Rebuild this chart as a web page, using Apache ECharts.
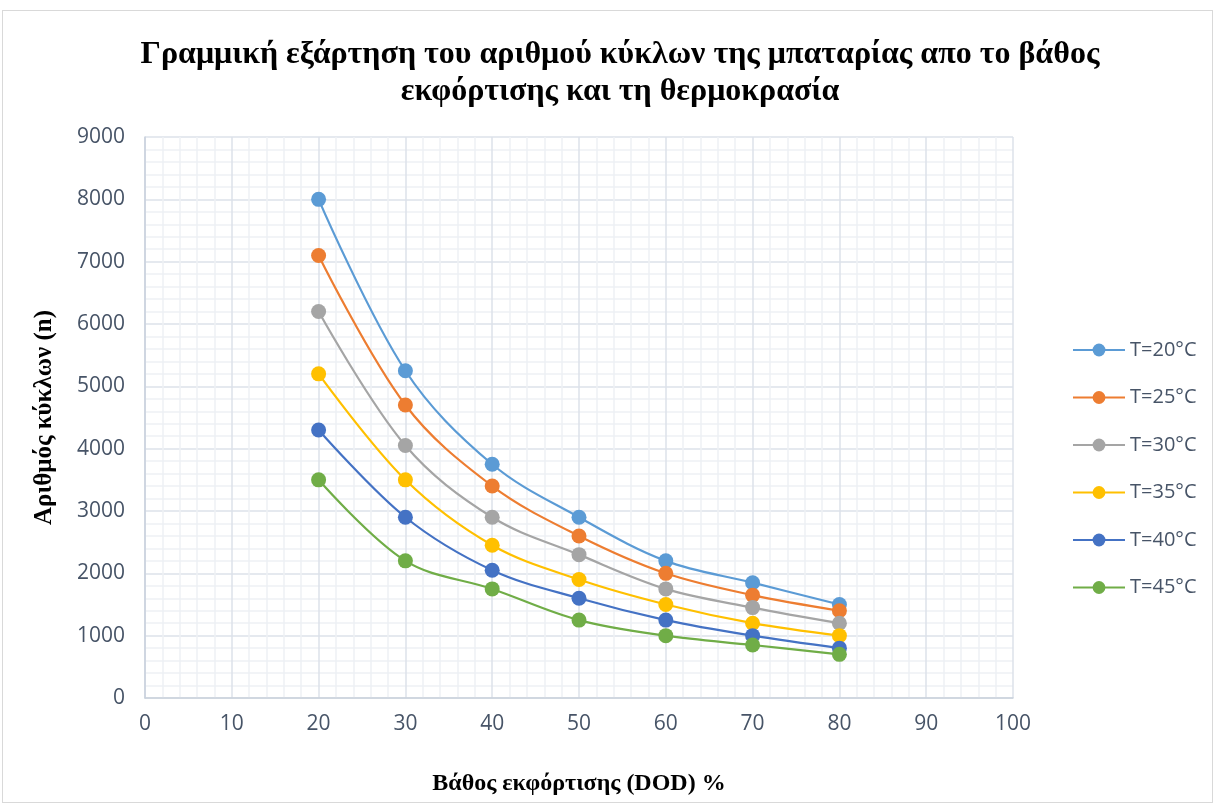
<!DOCTYPE html>
<html>
<head>
<meta charset="utf-8">
<script src="https://cdn.jsdelivr.net/npm/echarts@6/dist/echarts.min.js"></script>
<style>
    html, body { margin: 0; padding: 0; background: #fff; }
    #frame { position: absolute; left: 2px; top: 10px; width: 1211px; height: 793px; border: 1px solid #d9d9d9; box-sizing: border-box; }
    #chart { position: absolute; left: 0; top: 0; width: 1215px; height: 805px; }
</style>
</head>
<body>
<div id="frame"></div>
<div id="chart"></div>
<script>
    // βάθος εκφόρτισης (DOD) %
    var dod = [20, 30, 40, 50, 60, 70, 80];

    var seriesNames = ['T=20°C', 'T=25°C', 'T=30°C', 'T=35°C', 'T=40°C', 'T=45°C'];
    var seriesColors = ['#5B9BD5', '#ED7D31', '#A5A5A5', '#FFC000', '#4472C4', '#70AD47'];

    var t20 = [8000, 5250, 3750, 2900, 2200, 1850, 1500];
    var t25 = [7100, 4700, 3400, 2600, 2000, 1650, 1400];
    var t30 = [6200, 4050, 2900, 2300, 1750, 1450, 1200];
    var t35 = [5200, 3500, 2450, 1900, 1500, 1200, 1000];
    var t40 = [4300, 2900, 2050, 1600, 1250, 1000, 800];
    var t45 = [3500, 2200, 1750, 1250, 1000, 850, 700];

    var allValues = [t20, t25, t30, t35, t40, t45];

    var tickFont = 'Open Sans';
    var tickColor = '#475467';

    var series = allValues.map(function (vals, i) {
        return {
            name: seriesNames[i],
            type: 'line',
            smooth: 0.35,
            symbol: 'circle',
            symbolSize: 15,
            data: vals.map(function (v, j) { return [dod[j], v]; }),
            lineStyle: {width: 2.2, color: seriesColors[i]},
            itemStyle: {color: seriesColors[i]}
        };
    });

    var myChart = echarts.init(document.getElementById('chart'));
    var option = {
        animation: false,
        title: {
            text: 'Γραμμική εξάρτηση του αριθμού κύκλων της μπαταρίας απο το βάθος\nεκφόρτισης και τη θερμοκρασία',
            left: 615,
            top: 31,
            textAlign: 'center',
            textStyle: {
                fontFamily: 'Liberation Serif',
                fontWeight: 'bold',
                fontSize: 32,
                lineHeight: 37,
                color: '#000'
            }
        },
        legend: {
            orient: 'vertical',
            left: 1067,
            top: 335,
            itemWidth: 52,
            itemHeight: 16,
            itemGap: 27.5,
            textStyle: {fontFamily: tickFont, fontSize: 20, color: tickColor},
            data: seriesNames
        },
        grid: {left: 145, right: 202, top: 137, bottom: 107},
        xAxis: {
            type: 'value',
            min: 0,
            max: 100,
            interval: 10,
            name: 'Βάθος εκφόρτισης (DOD) %',
            nameLocation: 'middle',
            nameGap: 74,
            nameTextStyle: {fontFamily: 'Liberation Serif', fontWeight: 'bold', fontSize: 24, color: '#000'},
            axisLine: {show: true, lineStyle: {color: '#c9d1dc', width: 1.5}},
            axisTick: {show: false},
            axisLabel: {fontFamily: tickFont, fontSize: 21, color: tickColor, margin: 16},
            splitLine: {show: true, lineStyle: {color: '#dde2ea', width: 1.5}},
            minorTick: {show: false, splitNumber: 5},
            minorSplitLine: {show: true, lineStyle: {color: '#eef1f5', width: 1.5}}
        },
        yAxis: {
            type: 'value',
            min: 0,
            max: 9000,
            interval: 1000,
            name: 'Αριθμός κύκλων (n)',
            nameLocation: 'middle',
            nameGap: 88,
            nameTextStyle: {fontFamily: 'Liberation Serif', fontWeight: 'bold', fontSize: 25, color: '#000'},
            axisLine: {show: true, lineStyle: {color: '#c9d1dc', width: 1.5}},
            axisTick: {show: false},
            axisLabel: {
                fontFamily: tickFont, fontSize: 21, color: tickColor, margin: 20,
                formatter: function (v) { return String(v); }
            },
            splitLine: {show: true, lineStyle: {color: '#dde2ea', width: 1.5}},
            minorTick: {show: false, splitNumber: 5},
            minorSplitLine: {show: true, lineStyle: {color: '#eef1f5', width: 1.5}}
        },
        series: series
    };
    myChart.setOption(option);
</script>
</body>
</html>
